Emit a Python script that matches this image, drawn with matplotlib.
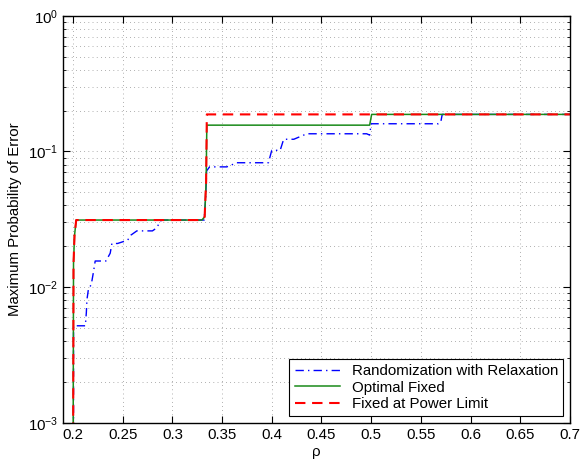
import numpy as np
import matplotlib
matplotlib.use('Agg')
import matplotlib.pyplot as plt
from matplotlib.ticker import LogLocator, NullFormatter

plt.rcParams['font.family'] = ['Liberation Sans', 'DejaVu Sans']
plt.rcParams['font.size'] = 10.8

#Data
rho_rand = [0.2006, 0.2006, 0.2125, 0.2135, 0.2141, 0.2157, 0.2184, 0.2207, 0.2224, 0.2332,
            0.2375, 0.2392, 0.2449, 0.2550, 0.2583, 0.2643, 0.2800, 0.2844, 0.2878, 0.2900,
            0.3320, 0.3335, 0.3345, 0.3375, 0.3548, 0.3649, 0.3967, 0.4000, 0.4085, 0.4120,
            0.4222, 0.4353, 0.4955, 0.4985, 0.5000, 0.5676, 0.5700, 0.5715, 0.7000]
p_rand = [1e-4, 0.0052, 0.0052, 0.0065, 0.0081, 0.0098, 0.0104, 0.0130, 0.0156, 0.0156,
          0.0178, 0.0210, 0.0210, 0.0222, 0.0242, 0.0260, 0.0260, 0.0274, 0.0307, 0.03125,
          0.03125, 0.045, 0.072, 0.077, 0.077, 0.0826, 0.0826, 0.102, 0.102, 0.123,
          0.123, 0.135, 0.135, 0.132, 0.160, 0.160, 0.164, 0.1875, 0.1875]

rho_opt = [0.2, 0.2006, 0.2016, 0.2033, 0.3297, 0.3325, 0.3340, 0.3347, 0.4985, 0.5005, 0.7]
p_opt = [1e-4, 0.015, 0.024, 0.03125, 0.03125, 0.033, 0.06, 0.15625, 0.15625, 0.1875, 0.1875]

rho_lim = [0.2, 0.2006, 0.2016, 0.2033, 0.3297, 0.3325, 0.3340, 0.3347, 0.7]
p_lim = [1e-4, 0.015, 0.024, 0.03125, 0.03125, 0.033, 0.06, 0.1875, 0.1875]

xticks = [0.2, 0.25, 0.3, 0.35, 0.4, 0.45, 0.5, 0.55, 0.6, 0.65, 0.7]
xticklabels = ['0.2', '0.25', '0.3', '0.35', '0.4', '0.45', '0.5', '0.55', '0.6', '0.65', '0.7']

fig = plt.figure(figsize=(5.81, 4.66), dpi=100)
ax = fig.add_axes([0.1084, 0.0923, 0.8726, 0.874])

ax.plot(rho_rand, p_rand, color='blue', lw=1.0, dashes=(6, 3, 1, 3),
        label='Randomization with Relaxation')
ax.plot(rho_opt, p_opt, color='#1a8a1a', lw=1.1, label='Optimal Fixed')
ax.plot(rho_lim, p_lim, color='red', lw=1.5, dashes=(5, 3.2), label='Fixed at Power Limit')

ax.set_yscale('log')
ax.set_xlim(0.19, 0.7)
ax.set_ylim(1e-3, 1)
ax.set_xticks(xticks)
ax.set_xticklabels(xticklabels)
ax.yaxis.set_minor_locator(LogLocator(base=10, subs=np.arange(2, 10)))
ax.yaxis.set_minor_formatter(NullFormatter())

ax.grid(True, which='major', color='#666666', lw=0.5, linestyle=(0, (1, 5)))
ax.grid(True, which='minor', axis='y', color='#666666', lw=0.5, linestyle=(0, (1, 5)))

ax.tick_params(which='both', direction='in', top=True, right=True, labelsize=10.8)
ax.tick_params(which='major', length=5)
ax.tick_params(which='minor', length=2.5)
for s in ax.spines.values():
    s.set_linewidth(1.0)

ax.set_xlabel('ρ', labelpad=2)
ax.set_ylabel('Maximum Probability of Error')

leg = ax.legend(loc='lower right', fancybox=False, framealpha=1, edgecolor='black',
                handlelength=3.0, borderaxespad=0.45, labelspacing=0.15, borderpad=0.35)
leg.get_frame().set_linewidth(0.8)

fig.savefig('out.png', dpi=100)
